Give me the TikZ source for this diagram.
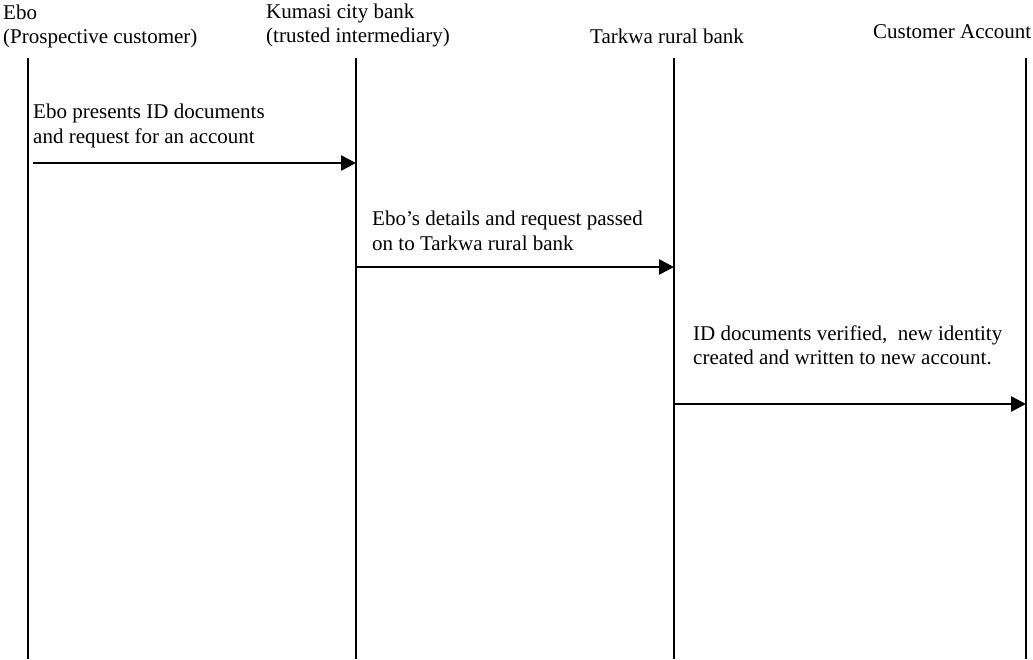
\documentclass[tikz,border=0pt]{standalone}
\usepackage{fontspec}
\setmainfont{Liberation Serif}
\usetikzlibrary{arrows.meta}
\begin{document}
\begin{tikzpicture}[x=1pt,y=-1pt,
  label/.style={anchor=base west,inner sep=0pt,align=left,font=\fontsize{21}{24}\selectfont},
  wide/.style={font=\fontsize{21}{25}\selectfont},
  lifeline/.style={line width=1.6pt},
  message/.style={line width=2.6pt,-{Triangle[length=15pt,width=15pt]}}]
\useasboundingbox (0,0) rectangle (1033,659);
\fill[white] (0,0) rectangle (1033,659);

% participants (anchored on the baseline of their last line)
\node[label] (ebo)  at (3,43)   {Ebo\\(Prospective customer)};
\node[label] (kcb)  at (266,42) {Kumasi city bank\\(trusted intermediary)};
\node[label] (trb)  at (590,43) {Tarkwa rural bank};
\node[label] (acct) at (873,38) {Customer Account};

% lifelines
\coordinate (l1t) at (28,58);   \coordinate (l1b) at (28,659);
\coordinate (l2t) at (356,58);  \coordinate (l2b) at (356,659);
\coordinate (l3t) at (674,58);  \coordinate (l3b) at (674,659);
\coordinate (l4t) at (1026,58); \coordinate (l4b) at (1026,659);
\draw[lifeline] (l1t) -- (l1b);
\draw[lifeline] (l2t) -- (l2b);
\draw[lifeline] (l3t) -- (l3b);
\draw[lifeline] (l4t) -- (l4b);

% messages
\node[label,wide] (m1) at (33,143) {Ebo presents ID documents\\and request for an account};
\coordinate (m1s) at (33,163);  \coordinate (m1e) at (356,163);
\draw[message] (m1s) -- (m1e);

\node[label,wide] (m2) at (372,250) {Ebo’s details and request passed\\on to Tarkwa rural bank};
\coordinate (m2s) at (356,267); \coordinate (m2e) at (674,267);
\draw[message] (m2s) -- (m2e);

\node[label] (m3) at (693,364) {ID documents verified,\ \ new identity\\created and written to new account.};
\coordinate (m3s) at (674,404); \coordinate (m3e) at (1026,404);
\draw[message] (m3s) -- (m3e);
\end{tikzpicture}
\end{document}
